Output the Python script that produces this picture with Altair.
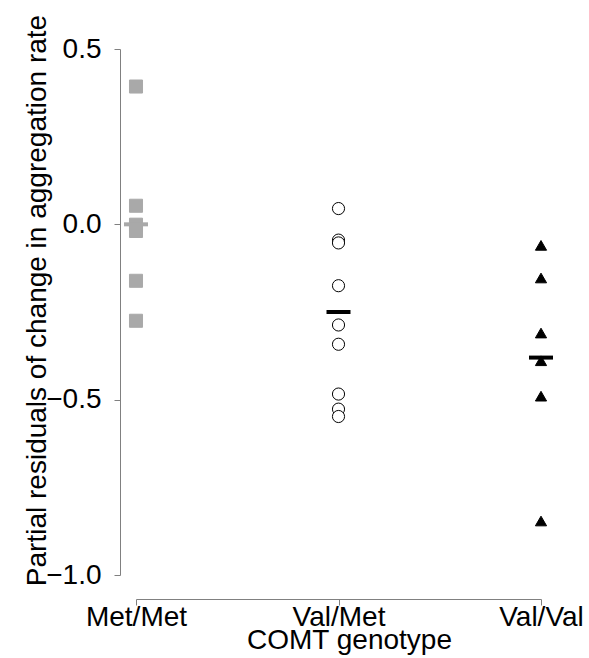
import altair as alt
import pandas as pd

genotypes = ["Met/Met", "Val/Met", "Val/Val"]
metmet_vals = [0.393, 0.053, -0.001, -0.019, -0.161, -0.275]
valmet_vals = [0.045, -0.045, -0.053, -0.175, -0.287, -0.342, -0.484, -0.527, -0.548]
valval_vals = [-0.06, -0.153, -0.31, -0.389, -0.49, -0.846]
group_means = [0.0, -0.25, -0.38]

rows = []
for g, vals in zip(genotypes, [metmet_vals, valmet_vals, valval_vals]):
    for v in vals:
        rows.append({"genotype": g, "residual": v})
points_df = pd.DataFrame(rows)
means_df = pd.DataFrame({"genotype": genotypes, "mean": group_means})

FONT = "Liberation Sans"
AXIS_COLOR = "#808080"
FS = 28

x_enc = alt.X(
    "genotype:N",
    scale=alt.Scale(type="point", domain=genotypes, padding=0),
    axis=alt.Axis(
        title="COMT genotype",
        offset=24,
        domainColor=AXIS_COLOR,
        tickColor=AXIS_COLOR,
        tickSize=6,
        labelAngle=0,
        labelFontSize=FS,
        labelFont=FONT,
        labelColor="black",
        labelPadding=-2,
        labelOverlap=False,
        titleFontSize=FS,
        titleFont=FONT,
        titleFontWeight="normal",
        titleColor="black",
        titleX=213,
        titleY=49,
        titleBaseline="alphabetic",
        titleAlign="center",
        grid=False,
    ),
)

y_scale = alt.Scale(domain=[-1.0, 0.5], nice=False, zero=False)

points = alt.Chart(points_df).mark_point(opacity=1, strokeWidth=1).encode(
    x=x_enc,
    y=alt.Y(
        "residual:Q",
        scale=y_scale,
        axis=alt.Axis(
            title="Partial residuals of change in aggregation rate",
            values=[-1.0, -0.5, 0.0, 0.5],
            format=".1f",
            offset=16,
            domainColor=AXIS_COLOR,
            tickColor=AXIS_COLOR,
            tickSize=6,
            labelFontSize=FS,
            labelFont=FONT,
            labelColor="black",
            labelPadding=13,
            titleFontSize=FS,
            titleFont=FONT,
            titleFontWeight="normal",
            titleColor="black",
            titleAngle=-90,
            titleX=-75,
            titleY=251,
            titleAlign="center",
            titleBaseline="alphabetic",
            grid=False,
        ),
    ),
    shape=alt.Shape(
        "genotype:N",
        scale=alt.Scale(domain=genotypes, range=["square", "circle", "triangle-up"]),
        legend=None,
    ),
    fill=alt.Fill(
        "genotype:N",
        scale=alt.Scale(domain=genotypes, range=["#a9a9a9", "white", "black"]),
        legend=None,
    ),
    stroke=alt.Stroke(
        "genotype:N",
        scale=alt.Scale(domain=genotypes, range=["#a9a9a9", "black", "black"]),
        legend=None,
    ),
    size=alt.Size(
        "genotype:N",
        scale=alt.Scale(domain=genotypes, range=[170, 125, 400]),
        legend=None,
    ),
)

means = alt.Chart(means_df).mark_tick(size=24, thickness=4, opacity=1).encode(
    x=alt.X("genotype:N", scale=alt.Scale(type="point", domain=genotypes, padding=0)),
    y=alt.Y("mean:Q", scale=y_scale),
    color=alt.Color(
        "genotype:N",
        scale=alt.Scale(domain=genotypes, range=["#a9a9a9", "black", "black"]),
        legend=None,
    ),
)

chart = (
    alt.layer(points, means)
    .resolve_scale(color="independent")
    .properties(
        width=405,
        height=526,
        background="white",
        autosize=alt.AutoSizeParams(type="none"),
        padding={"left": 136, "top": 49, "right": 48, "bottom": 83},
    )
    .configure_view(strokeWidth=0, stroke=None)
)

chart.save("out.html", embed_options={"renderer": "svg", "actions": False})
